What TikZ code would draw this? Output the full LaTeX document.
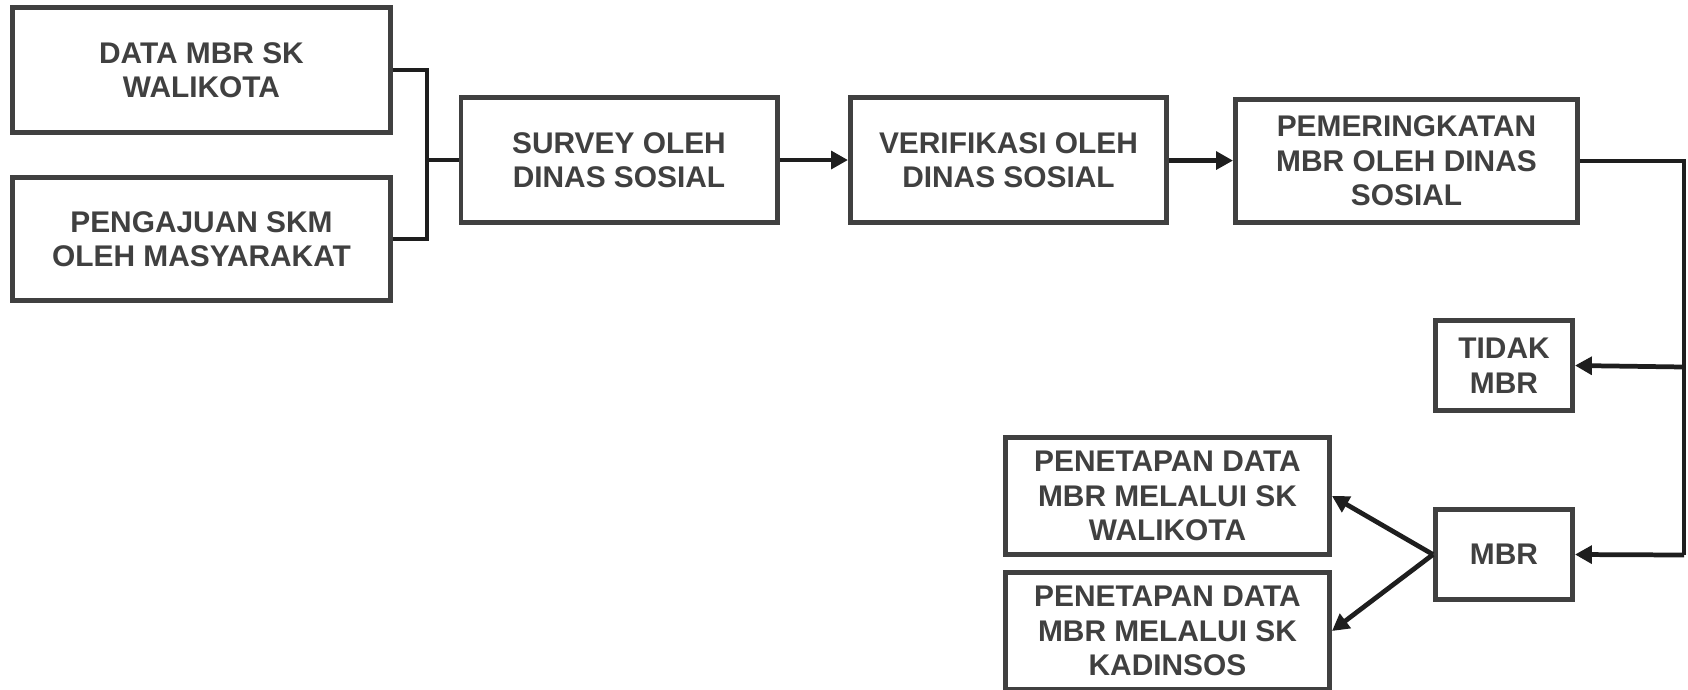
\documentclass[tikz,border=0pt]{standalone}
\usepackage{fontspec}
\setmainfont{Liberation Sans}
\usepackage{tikz}
\usetikzlibrary{positioning, calc, shapes, arrows, arrows.meta, fit}
\definecolor{boxgray}{HTML}{404040}
\definecolor{linegray}{HTML}{1E1E1E}

\begin{document}
\begin{tikzpicture}[
		box/.style = {draw = boxgray, line width = 1.42pt, fill = white, text = boxgray, align = center, inner sep = 0pt, font = \fontsize{8.5}{9.8}\selectfont\bfseries},
		line/.style = {draw = linegray, line width = 1.35pt},
		arrow/.style = {line, -{Triangle[length = 4.8pt, width = 5pt]}}]
	\useasboundingbox (0,0) rectangle (16.88,-6.89);
	\node[box, minimum width = 3.78cm, minimum height = 1.25cm] (data) at (2.015,-0.70) {DATA MBR SK\\WALIKOTA};
	\node[box, minimum width = 3.78cm, minimum height = 1.23cm] (ajuan) at (2.015,-2.39) {PENGAJUAN SKM\\OLEH MASYARAKAT};
	\node[box, minimum width = 3.16cm, minimum height = 1.25cm] (survey) at (6.19,-1.60) {SURVEY OLEH\\DINAS SOSIAL};
	\node[box, minimum width = 3.16cm, minimum height = 1.25cm] (verif) at (10.085,-1.60) {VERIFIKASI OLEH\\DINAS SOSIAL};
	\node[box, minimum width = 3.42cm, minimum height = 1.23cm] (rank) at (14.065,-1.61) {PEMERINGKATAN\\MBR OLEH DINAS\\SOSIAL};
	\node[box, minimum width = 1.37cm, minimum height = 0.90cm] (tidak) at (15.04,-3.655) {TIDAK\\MBR};
	\node[box, minimum width = 1.37cm, minimum height = 0.90cm] (mbr) at (15.04,-5.545) {MBR};
	\node[box, minimum width = 3.24cm, minimum height = 1.17cm] (skwali) at (11.675,-4.96) {PENETAPAN DATA\\MBR MELALUI SK\\WALIKOTA};
	\node[box, minimum width = 3.24cm, minimum height = 1.17cm] (skkadin) at (11.675,-6.31) {PENETAPAN DATA\\MBR MELALUI SK\\KADINSOS};

	\coordinate (join) at (4.27,-1.60);
	\coordinate (turn) at (16.84,-1.61);
	\coordinate (down) at (16.84,-5.55);
	\coordinate (fork) at (16.84,-3.67);

	\draw[line] (data.east) -| (join) |- (ajuan.east);
	\draw[line] (join) -- (survey.west);
	\draw[arrow] (survey) -- (verif);
	\draw[arrow] (verif) -- (rank);
	\draw[line] (rank.east) -- (turn) -- (down);
	\draw[arrow] (down) -- (mbr.east);
	\draw[arrow] (fork) -- (tidak.east);
	\draw[arrow] (mbr.west) -- (skwali.east);
	\draw[arrow] (mbr.west) -- (skkadin.east);
\end{tikzpicture}
\end{document}
